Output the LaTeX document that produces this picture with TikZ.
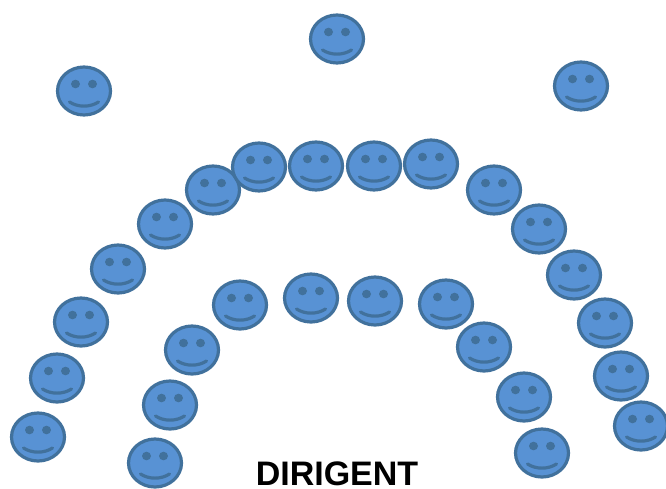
\documentclass[tikz,border=0pt]{standalone}
\usepackage{fontspec}
\setmainfont{Liberation Sans}
\definecolor{facefill}{HTML}{5892D4}
\definecolor{faceline}{HTML}{41719C}
\tikzset{
  face/.style={fill=facefill,draw=faceline,line width=3.2pt},
  eye/.style={fill=faceline,draw=none},
  smile/.style={draw=faceline,line width=3.2pt,line cap=round},
  title/.style={font=\bfseries\fontsize{34}{34}\selectfont,text=black,inner sep=0pt,anchor=base}
}
\newcommand{\smiley}[2]{%
  \begin{scope}[shift={(#1,#2)}]
    \path[face] (0,0) ellipse [x radius=26.5, y radius=24];
    \path[eye] (-8.5,-7) ellipse [x radius=4.5, y radius=4.3];
    \path[eye] (8.5,-7) ellipse [x radius=4.5, y radius=4.3];
    \path[smile] (-14.5,11) .. controls (-6,16.5) and (6,16.5) .. (14.5,11);
  \end{scope}}
\begin{document}
\begin{tikzpicture}[x=1pt,y=-1pt]
\useasboundingbox (0,0) rectangle (666,488);
\fill[white] (0,0) rectangle (666,488);
\foreach \a/\b in {84/91,337/39,581/86,
  38/437,57/378,81/322,118/269,165/224,213/190,259/167,316/166,374/166,431/164,
  494/190,539/229,574/275,605/323,621/376,641/426,
  155/463,170/405,192/350,240/305,311/298,375/301,446/304,484/347,524/397,542/453}
  {\smiley{\a}{\b}}
\node[title] (dirigent) at (337,485) {DIRIGENT};
\end{tikzpicture}
\end{document}
